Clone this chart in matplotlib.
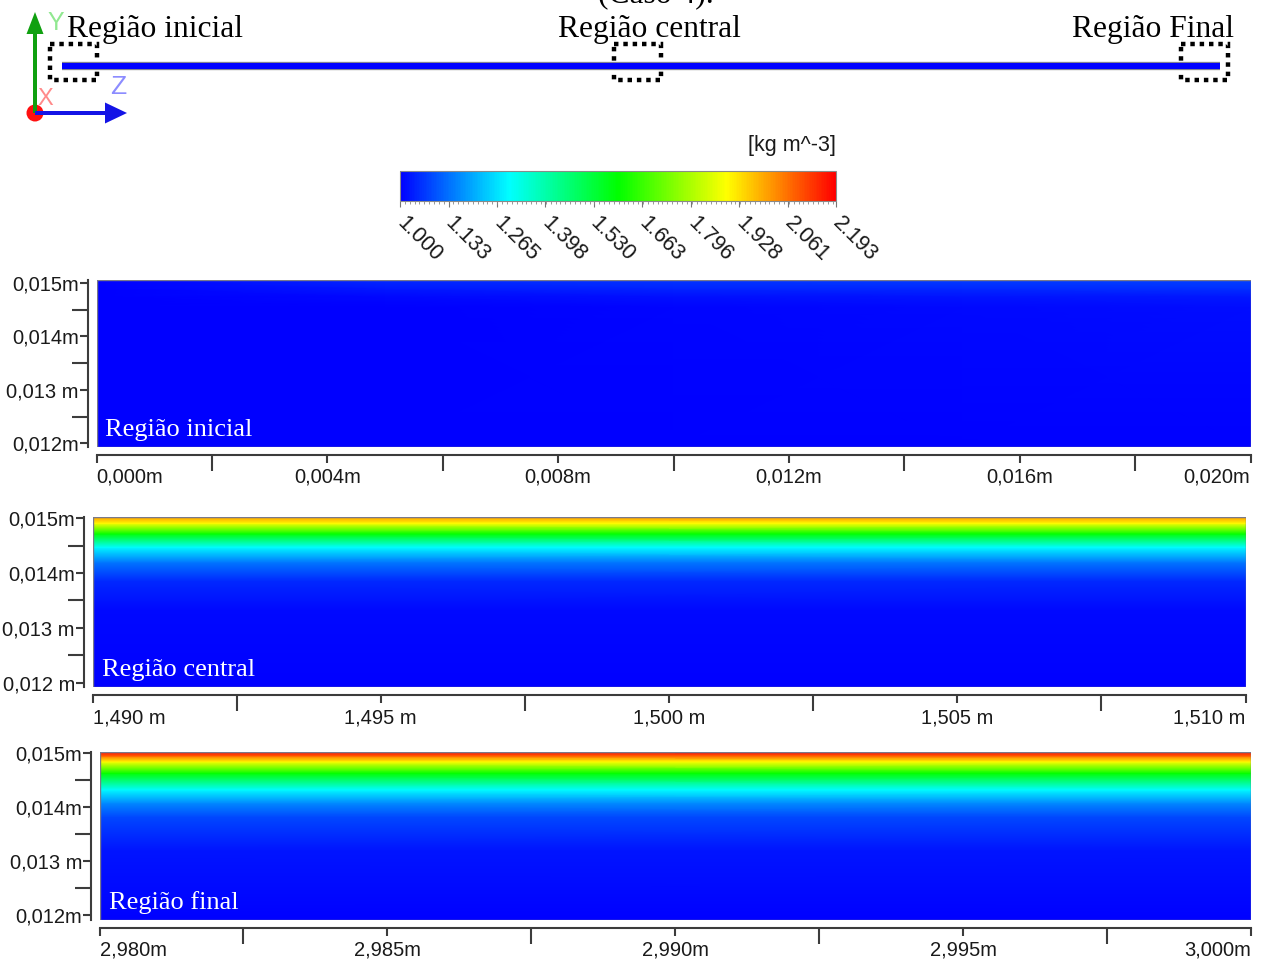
import matplotlib
matplotlib.use('Agg')
import matplotlib.pyplot as plt
import numpy as np
import matplotlib.colorbar as mcolorbar
from matplotlib.colors import LinearSegmentedColormap, Normalize
from matplotlib.patches import Rectangle, Circle
from matplotlib.ticker import AutoMinorLocator

W, H = 1266, 965

# escala de massa especifica [kg m^-3]
rho_min, rho_max = 1.000, 2.193
cbar_ticks = [1.000, 1.133, 1.265, 1.398, 1.530, 1.663, 1.796, 1.928, 2.061, 2.193]
cbar_labels = ['1.000', '1.133', '1.265', '1.398', '1.530',
               '1.663', '1.796', '1.928', '2.061', '2.193']

# tubo completo e regioes marcadas (m)
pipe_length = 3.0
box_centers = [0.03, 1.49, 2.96]
box_width = 0.122

# regiao inicial (campo 2D)
z_ini = [0.000, 0.005, 0.010, 0.015, 0.020]
y_ini = [0.01194, 0.01455, 0.01475, 0.01490, 0.015056]
rho_ini = [[1.000, 1.000, 1.000, 1.000, 1.000],
           [1.000, 1.004, 1.008, 1.010, 1.014],
           [1.000, 1.012, 1.020, 1.026, 1.032],
           [1.000, 1.030, 1.042, 1.050, 1.056],
           [1.000, 1.050, 1.064, 1.072, 1.078]]

# regiao central (perfil em y)
z_cen = [1.490, 1.510]
y_cen = [0.011916, 0.01333, 0.013855, 0.01420, 0.014473, 0.014718, 0.014909, 0.015018]
rho_cen = [1.000, 1.012, 1.048, 1.143, 1.298, 1.597, 1.895, 2.014]

# regiao final (perfil em y)
z_fin = [2.980, 3.000]
y_fin = [0.011908, 0.01320, 0.013815, 0.014074, 0.014315, 0.01462, 0.014833, 0.01494, 0.015018]
rho_fin = [1.000, 1.024, 1.084, 1.167, 1.298, 1.597, 1.895, 2.074, 2.193]

# eixos
x_ini_ticks = [0.000, 0.004, 0.008, 0.012, 0.016, 0.020]
x_ini_labels = ['0,000m', '0,004m', '0,008m', '0,012m', '0,016m', '0,020m']
x_ini_minor = [0.002, 0.006, 0.010, 0.014, 0.018]
x_cen_ticks = [1.490, 1.495, 1.500, 1.505, 1.510]
x_cen_labels = ['1,490 m', '1,495 m', '1,500 m', '1,505 m', '1,510 m']
x_cen_minor = [1.4925, 1.4975, 1.5025, 1.5075]
x_fin_ticks = [2.980, 2.985, 2.990, 2.995, 3.000]
x_fin_labels = ['2,980m', '2,985m', '2,990m', '2,995m', '3,000m']
x_fin_minor = [2.9825, 2.9875, 2.9925, 2.9975]
y_ticks = [0.012, 0.013, 0.014, 0.015]
y_minor = [0.0125, 0.0135, 0.0145]
y_ini_labels = ['0,012m', '0,013 m', '0,014m', '0,015m']
y_cen_labels = ['0,012 m', '0,013 m', '0,014m', '0,015m']
y_fin_labels = ['0,012m', '0,013 m', '0,014m', '0,015m']

cmap = LinearSegmentedColormap.from_list(
    'cfx_rainbow', ['#0000ff', '#00ffff', '#00ff00', '#ffff00', '#ff0000'])
norm = Normalize(rho_min, rho_max)

plt.rcParams['font.family'] = ['Liberation Sans', 'DejaVu Sans']

fig = plt.figure(figsize=(W / 100, H / 100), dpi=100)
fig.patch.set_facecolor('white')

axis_col = '#3c3c3c'
text_col = '#1a1a1a'


def px_rect(left, top, right, bottom):
    return [left / W, (H - bottom) / H, (right - left) / W, (bottom - top) / H]


def draw_panel(rect, z, y, rho, xt, xtl, xminor, ytl):
    ax = fig.add_axes(rect)
    Z, Y = np.meshgrid(z, y)
    R = np.asarray(rho)
    if R.ndim == 1:
        R = np.repeat(R[:, None], len(z), axis=1)
    ax.pcolormesh(Z, Y, R, cmap=cmap, norm=norm, shading='gouraud')
    ax.set_xlim(z[0], z[-1])
    ax.set_ylim(y[0], y[-1])
    for s in ['top', 'right']:
        ax.spines[s].set_visible(False)
    for s in ['left', 'bottom']:
        ax.spines[s].set_position(('outward', 5.8))
        ax.spines[s].set_color(axis_col)
        ax.spines[s].set_linewidth(1.5)
    ax.set_xticks(xt)
    ax.set_xticklabels(xtl)
    ax.set_xticks(xminor, minor=True)
    ax.set_yticks(y_ticks)
    ax.set_yticklabels(ytl)
    ax.set_yticks(y_minor, minor=True)
    ax.tick_params(which='major', length=5.8, width=1.5, color=axis_col,
                   labelsize=14.5, labelcolor=text_col)
    ax.tick_params(axis='x', which='major', pad=3.5)
    ax.tick_params(axis='y', which='major', pad=1.0)
    ax.tick_params(which='minor', length=11.5, width=1.5, color=axis_col)
    ticks = ax.xaxis.get_major_ticks()
    ticks[0].label1.set_horizontalalignment('left')
    ticks[-1].label1.set_horizontalalignment('right')
    ax.add_patch(Rectangle((0, 0), 1, 1, transform=ax.transAxes, fill=False,
                           ec='#7a7a8a', lw=1.0))
    return ax


draw_panel(px_rect(96.5, 280, 1250.5, 446.7), z_ini, y_ini, rho_ini,
           x_ini_ticks, x_ini_labels, x_ini_minor, y_ini_labels)
draw_panel(px_rect(92.5, 517.3, 1245.5, 687.3), z_cen, y_cen, rho_cen,
           x_cen_ticks, x_cen_labels, x_cen_minor, y_cen_labels)
draw_panel(px_rect(99.5, 751.7, 1251, 920), z_fin, y_fin, rho_fin,
           x_fin_ticks, x_fin_labels, x_fin_minor, y_fin_labels)

# barra de cores
cax = fig.add_axes(px_rect(400, 171, 836, 201))
cb = mcolorbar.ColorbarBase(cax, cmap=cmap, norm=norm, orientation='horizontal',
                            ticks=cbar_ticks)
cb.outline.set_edgecolor('#8a8a8a')
cb.outline.set_linewidth(0.8)
cax.set_xticklabels(cbar_labels, rotation=-45, ha='left', va='center',
                    rotation_mode='anchor', fontsize=15.5, color=text_col)
cax.xaxis.set_minor_locator(AutoMinorLocator(10))
cax.tick_params(which='major', length=4, width=0.8, color='#777777', pad=10)
cax.tick_params(which='minor', length=2.5, width=0.6, color='#888888')

# esquema do tubo
sch = fig.add_axes(px_rect(62, 0, 1220, 125))
sch.set_xlim(0, pipe_length)
sch.set_ylim(125, 0)
sch.axis('off')
sch.plot([0, pipe_length], [66, 66], color='#8a8a8a', lw=6.0, solid_capstyle='butt')
sch.plot([0, pipe_length], [66, 66], color='#0000ff', lw=4.4, solid_capstyle='butt')
for zc in box_centers:
    sch.add_patch(Rectangle((zc - box_width / 2, 44), box_width, 36, fill=False,
                            ec='black', lw=3.2, ls=(0, (1, 1.1)), clip_on=False))

# sobreposicao em pixels: textos e triedro
ov = fig.add_axes([0, 0, 1, 1])
ov.set_xlim(0, W)
ov.set_ylim(H, 0)
ov.axis('off')
ov.set_zorder(10)
ov.patch.set_visible(False)

serif = 'Liberation Serif'
ov.text(656, 2, '(Caso 4).', family=serif, fontsize=22.7, ha='center', va='baseline')
ov.text(67, 37, 'Região inicial', family=serif, fontsize=22.7, ha='left', va='baseline')
ov.text(649, 37, 'Região central', family=serif, fontsize=22.7, ha='center', va='baseline')
ov.text(1234, 37, 'Região Final', family=serif, fontsize=22.7, ha='right', va='baseline')

ov.text(105, 436, 'Região inicial', family=serif, fontsize=19, color='white', va='baseline')
ov.text(102, 676, 'Região central', family=serif, fontsize=19, color='white', va='baseline')
ov.text(109, 909, 'Região final', family=serif, fontsize=19, color='white', va='baseline')

ov.text(836, 145, '[kg m^-3]', fontsize=15.5, ha='right', va='center', color=text_col)

ov.add_patch(Circle((35, 113), 8.5, color='#ff1010', lw=0))
ov.arrow(35, 113, 0, -101, width=4, head_width=17, head_length=22,
         length_includes_head=True, color='#10a010', lw=0)
ov.arrow(35, 113, 92, 0, width=4, head_width=21, head_length=22,
         length_includes_head=True, color='#1414e6', lw=0)
ov.text(56, 23, 'Y', fontsize=18, color='#90e890', ha='center', va='center')
ov.text(118, 87, 'Z', fontsize=19, color='#8c8cff', ha='center', va='center')
ov.text(45, 99, 'X', fontsize=17, color='#ff8a8a', ha='center', va='center')

fig.savefig('out.png', dpi=100)
